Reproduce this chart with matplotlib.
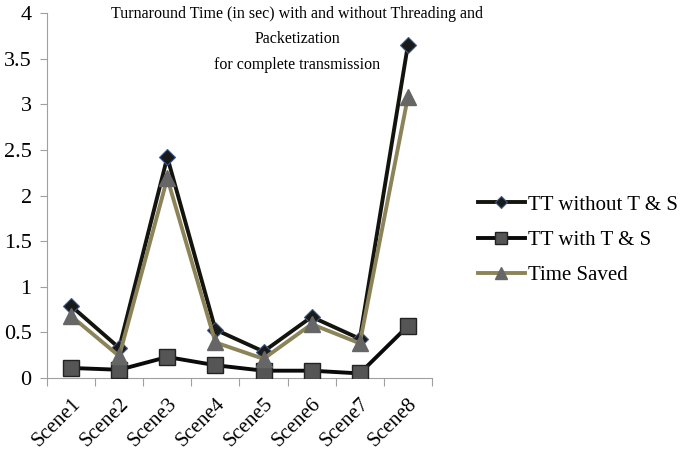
import matplotlib.pyplot as plt
import numpy as np

scenes = ["Scene1", "Scene2", "Scene3", "Scene4", "Scene5", "Scene6", "Scene7", "Scene8"]
tt_without = [0.79, 0.33, 2.42, 0.53, 0.29, 0.67, 0.43, 3.65]
tt_with = [0.11, 0.09, 0.23, 0.14, 0.08, 0.08, 0.05, 0.57]
time_saved = [0.68, 0.24, 2.19, 0.39, 0.21, 0.59, 0.38, 3.08]

plt.rcParams['font.family'] = ['Liberation Serif', 'DejaVu Serif']

fig = plt.figure(figsize=(6.85, 4.59), dpi=100)
ax = fig.add_axes([0.0686, 0.1765, 0.562, 0.795])

x = np.arange(len(scenes))
ax.plot(x, tt_without, color="#14140f", lw=2.8, marker="D", ms=8,
        mfc="#1a1a1a", mec="#3a5a8a", mew=0.8, label="TT without T & S", zorder=3)
ax.plot(x, tt_with, color="#0a0a0a", lw=2.8, marker="s", ms=11,
        mfc="#555555", mec="#222222", mew=1.0, label="TT with T & S", zorder=3)
ax.plot(x, time_saved, color="#8c8458", lw=2.8, marker="^", ms=11.5,
        mfc="#666666", mec="#666666", label="Time Saved", zorder=4)

ax.set_xlim(-0.5, len(scenes) - 0.5)
ax.set_ylim(0, 4)
ax.set_yticks(np.arange(0, 4.01, 0.5))
ax.set_yticklabels(["0", "0.5", "1", "1.5", "2", "2.5", "3", "3.5", "4"], fontsize=16)

# category ticks sit between scenes, labels centred under them
ax.set_xticks(np.arange(-0.5, len(scenes), 1))
ax.set_xticklabels([])
ax.set_xticks(x, minor=True)
ax.set_xticklabels(scenes, minor=True, rotation=45, ha="right", rotation_mode="anchor", fontsize=15)
ax.tick_params(axis="x", which="minor", length=0, pad=12)
ax.tick_params(axis="x", which="major", length=6, color="#a0a0a0", direction="out")
ax.tick_params(axis="y", length=5, color="#a0a0a0", direction="out", pad=6)

for s in ["top", "right"]:
    ax.spines[s].set_visible(False)
ax.spines["left"].set_color("#a0a0a0")
ax.spines["bottom"].set_color("#a0a0a0")

fig.text(0.434, 0.988, "Turnaround Time (in sec) with and without Threading and\nPacketization\nfor complete transmission",
         ha="center", va="top", fontsize=11.5, linespacing=1.8)

ax.legend(loc="center left", bbox_to_anchor=(0.670, 0.477), bbox_transform=fig.transFigure,
          frameon=False, fontsize=15, handlelength=2.25, handletextpad=0.15, labelspacing=0.75,
          markerscale=0.8)

fig.savefig("out.png", dpi=100)
